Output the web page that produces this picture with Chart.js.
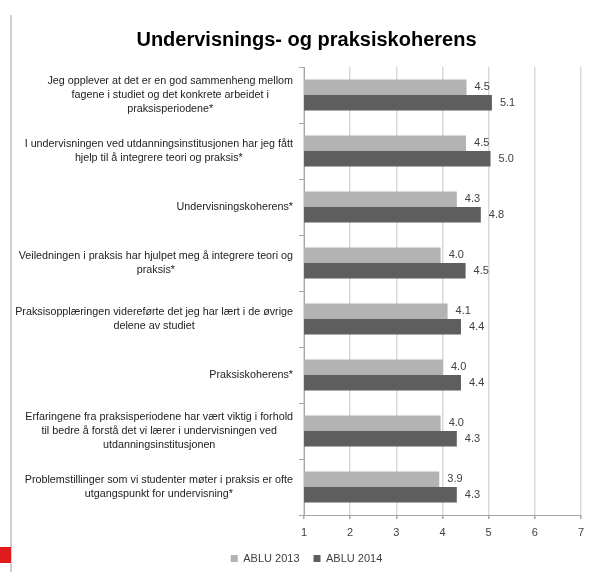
<!DOCTYPE html>
<html>
<head>
<meta charset="utf-8">
<script src="https://cdn.jsdelivr.net/npm/chart.js@4.4.1/dist/chart.umd.min.js"></script>
<style>
    html, body { margin: 0; padding: 0; background: #fff; }
    #wrap { position: relative; width: 589px; height: 572px; overflow: hidden; }
    #edge { position: absolute; left: 10px; top: 15px; bottom: 0; width: 2px; background: #d0d0d0; }
    #mark { position: absolute; left: 0; top: 547px; width: 11px; height: 16px; background: #e01b1b; }
    canvas { position: absolute; left: 0; top: 0; }
</style>
</head>
<body>
<div id="wrap">
    <div id="edge"></div>
    <div id="mark"></div>
    <canvas id="chart" width="589" height="574"></canvas>
</div>
<script>
const titleText = 'Undervisnings- og praksiskoherens';

// one entry per bar pair, each line of the wrapped label
const categories = [
    ['Jeg opplever at det er en god sammenheng mellom', 'fagene i studiet og det konkrete arbeidet i', 'praksisperiodene*'],
    ['I undervisningen ved utdanningsinstitusjonen har jeg fått', 'hjelp til å integrere teori og praksis*'],
    ['Undervisningskoherens*'],
    ['Veiledningen i praksis har hjulpet meg å integrere teori og', 'praksis*'],
    ['Praksisopplæringen videreførte det jeg har lært i de øvrige', 'delene av studiet'],
    ['Praksiskoherens*'],
    ['Erfaringene fra praksisperiodene har vært viktig i forhold', 'til bedre å forstå det vi lærer i undervisningen ved', 'utdanningsinstitusjonen'],
    ['Problemstillinger som vi studenter møter i praksis er ofte', 'utgangspunkt for undervisning*']
];

const seriesNames = ['ABLU 2013', 'ABLU 2014'];
const ablu2013 = [4.52, 4.51, 4.31, 3.96, 4.11, 4.01, 3.96, 3.93];
const ablu2014 = [5.07, 5.04, 4.83, 4.50, 4.40, 4.40, 4.31, 4.31];

const xTicks = [1, 2, 3, 4, 5, 6, 7];

Chart.defaults.font.family = '"Liberation Sans", Arial, sans-serif';

// draws wrapped category labels: block right-aligned, lines centred in block
const categoryLabels = {
    id: 'categoryLabels',
    afterDraw(chart) {
        const ctx = chart.ctx;
        const yScale = chart.scales.y;
        const right = chart.chartArea.left - 11;
        ctx.save();
        ctx.font = '10.75px "Liberation Sans", Arial, sans-serif';
        ctx.fillStyle = '#222';
        ctx.textAlign = 'center';
        ctx.textBaseline = 'middle';
        categories.forEach((lines, i) => {
            const w = Math.max(...lines.map(l => ctx.measureText(l).width));
            const cx = right - w / 2;
            const cy = yScale.getPixelForValue(i);
            lines.forEach((line, j) => {
                ctx.fillText(line, cx, cy + (j - (lines.length - 1) / 2) * 14);
            });
        });
        ctx.restore();
    }
};

const valueLabels = {
    id: 'valueLabels',
    afterDatasetsDraw(chart) {
        const ctx = chart.ctx;
        ctx.save();
        ctx.font = '11px "Liberation Sans", Arial, sans-serif';
        ctx.fillStyle = '#404040';
        ctx.textAlign = 'left';
        ctx.textBaseline = 'middle';
        chart.data.datasets.forEach((ds, d) => {
            chart.getDatasetMeta(d).data.forEach((bar, i) => {
                ctx.fillText(ds.data[i].toFixed(1), bar.x + 8, bar.y);
            });
        });
        ctx.restore();
    }
};

new Chart(document.getElementById('chart'), {
    type: 'bar',
    data: {
        labels: categories.map(c => c.join(' ')),
        datasets: [
            { label: seriesNames[0], data: ablu2013, backgroundColor: '#b3b3b3', categoryPercentage: 0.55, barPercentage: 1 },
            { label: seriesNames[1], data: ablu2014, backgroundColor: '#5e5e5e', categoryPercentage: 0.55, barPercentage: 1 }
        ]
    },
    options: {
        indexAxis: 'y',
        responsive: false,
        animation: false,
        layout: { padding: { left: 25, right: 1, top: 0, bottom: 0 } },
        plugins: {
            title: {
                display: true,
                text: titleText,
                color: '#000',
                font: { size: 20, weight: 'bold' },
                padding: { top: 28, bottom: 15 }
            },
            legend: {
                position: 'bottom',
                labels: { boxWidth: 7, boxHeight: 7, color: '#404040', font: { size: 11 }, padding: 14 }
            },
            tooltip: { enabled: false }
        },
        scales: {
            x: {
                min: xTicks[0],
                max: xTicks[xTicks.length - 1],
                afterBuildTicks: s => { s.ticks = xTicks.map(v => ({ value: v })); },
                ticks: { color: '#404040', font: { size: 11 }, padding: 7 },
                grid: { color: '#d9d9d9', lineWidth: 1.5, tickColor: '#a6a6a6', tickLength: 4 },
                border: { color: '#a6a6a6' },
                afterFit: s => { s.height = 24; s.paddingRight = 8; }
            },
            y: {
                ticks: { display: false },
                grid: { offset: true, drawOnChartArea: false, tickLength: 5, tickColor: '#a6a6a6' },
                border: { color: '#a6a6a6' },
                afterFit: s => { s.width = 279; }
            }
        }
    },
    plugins: [categoryLabels, valueLabels]
});
</script>
</body>
</html>
